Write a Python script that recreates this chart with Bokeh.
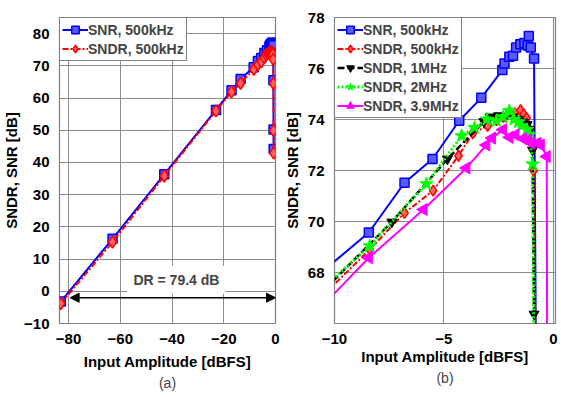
import numpy as np
from bokeh.plotting import figure
from bokeh.layouts import row
from bokeh.models import Range1d, FixedTicker, Label, Arrow, NormalHead, Title
from bokeh.embed import file_html
from bokeh.resources import INLINE

FONT = "Liberation Sans"

# ---- data ----
snr500_x = [-83, -63, -43, -23, -17, -13.5, -8.43, -6.8, -5.52, -4.3, -3.29, -2.33, -2.23,
            -2.01, -1.84, -1.7, -1.51, -1.32, -1.17, -1.12, -1.03, -0.88, -0.8, -0.75, -0.7]
snr500_y = [-3.2, 16.3, 36.3, 56.3, 62.4, 65.9, 69.57, 71.52, 72.45, 73.95, 74.85, 75.94, 76.2,
            76.46, 76.5, 76.82, 76.95, 77.0, 76.9, 77.27, 76.82, 76.39, 65.5, 50.2, 44.2]

sndr500_x = [-83, -63, -43, -23, -17, -13.5, -8.39, -6.8, -5.49, -4.33, -3.68, -3.0, -2.6,
             -2.3, -2.0, -1.75, -1.5, -1.35, -1.22, -1.07, -0.9, -0.8, -0.75, -0.7]
sndr500_y = [-3.8, 15.3, 35.8, 56.0, 61.9, 64.6, 68.9, 70.34, 71.21, 72.58, 73.46, 73.75, 73.98,
             74.1, 74.3, 74.25, 74.37, 74.2, 74.05, 73.6, 72.0, 64.5, 49.9, 42.9]

sndr1m_x = [-12, -7.38, -4.84, -3.17, -2.89, -2.5, -2.2, -1.85, -1.6, -1.37, -1.2, -1.07, -0.95, -0.88]
sndr1m_y = [66.0, 69.98, 72.45, 73.92, 74.1, 74.15, 74.12, 74.1, 74.0, 73.9, 73.8, 73.6, 72.8, 66.37]

sndr2m_x = [-12, -8.39, -5.8, -4.19, -3.6, -3.03, -2.6, -2.3, -2.01, -1.8, -1.6, -1.45, -1.2,
            -1.09, -0.95, -0.85]
sndr2m_y = [66.26, 69.04, 71.47, 73.36, 73.68, 74.01, 73.95, 74.1, 74.34, 74.0, 73.9, 73.75, 73.6,
            73.4, 72.25, 60.0]

sndr39m_x = [-12, -8.43, -5.93, -3.97, -3.06, -2.8, -2.3, -2.0, -1.73, -1.38, -1.14, -1.0, -0.72,
             -0.57, -0.3, -0.27]
sndr39m_y = [65.4, 68.58, 70.47, 72.1, 73.0, 73.27, 73.6, 73.3, 73.4, 73.25, 73.2, 73.07, 73.07,
             73.0, 72.55, 60.0]

left_xticks = [-80, -60, -40, -20, 0]
left_yticks = [-10, 0, 10, 20, 30, 40, 50, 60, 70, 80]
right_xticks = [-10, -5, 0]
right_yticks = [68, 70, 72, 74, 76, 78]


def style(p, xticks, yticks):
    p.xaxis.ticker = FixedTicker(ticks=xticks)
    p.yaxis.ticker = FixedTicker(ticks=yticks)
    for ax in (p.xaxis, p.yaxis):
        ax.axis_line_color = None
        ax.major_tick_line_color = None
        ax.minor_tick_line_color = None
        ax.major_label_text_font = FONT
        ax.major_label_text_font_style = "bold"
        ax.major_label_text_font_size = "15px"
        ax.major_label_text_color = "black"
        ax.axis_label_text_font = FONT
        ax.axis_label_text_font_style = "bold"
        ax.axis_label_text_font_size = "15px"
        ax.axis_label_text_color = "black"
        ax.major_label_standoff = 4
        ax.axis_label_standoff = 4
    p.grid.grid_line_color = "#8c8c8c"
    p.grid.grid_line_width = 1
    p.outline_line_color = "#7f7f7f"
    p.outline_line_width = 1.2


def style_legend(p):
    lg = p.legend[0]
    lg.location = "top_left"
    lg.margin = 0
    lg.padding = 2
    lg.spacing = 0
    lg.border_line_color = "black"
    lg.border_line_width = 1.5
    lg.background_fill_alpha = 1
    lg.label_text_font = FONT
    lg.label_text_font_style = "bold"
    lg.label_text_font_size = "14px"
    lg.glyph_width = 26
    lg.glyph_height = 19
    lg.label_height = 19
    lg.label_standoff = 0


# ---- left plot ----
p1 = figure(width=280, height=397, output_backend="svg", toolbar_location=None,
            x_range=Range1d(-83.5, 0), y_range=Range1d(-10, 85),
            min_border_left=58, min_border_right=5, min_border_top=5, min_border_bottom=68)
style(p1, left_xticks, left_yticks)
p1.xaxis.axis_label = "Input Amplitude [dBFS]"
p1.yaxis.axis_label = "SNDR, SNR [dB]"
p1.xaxis.axis_label_standoff = 6
p1.yaxis.axis_label_standoff = 1

p1.line(snr500_x, snr500_y, color="#0000ff", line_width=2, legend_label="SNR, 500kHz")
p1.scatter(snr500_x, snr500_y, marker="square", size=9, line_color="#0000ff",
           fill_color="#5a5aff", line_width=1.5, legend_label="SNR, 500kHz")
p1.line(sndr500_x, sndr500_y, color="#ff0000", line_width=2, line_dash="6 2 2 2",
        legend_label="SNDR, 500kHz")
p1.scatter(sndr500_x, sndr500_y, marker="diamond", size=12, line_color="#ff0000",
           fill_color="#ff6060", line_width=1.5, legend_label="SNDR, 500kHz")

p1.add_layout(Arrow(x_start=-79.4, y_start=-2, x_end=0, y_end=-2, line_width=1.5,
                    start=NormalHead(size=9, fill_color="black", line_color="black"),
                    end=NormalHead(size=9, fill_color="black", line_color="black")))
p1.add_layout(Label(x=-38.3, y=3.6, text="DR = 79.4 dB", text_align="center",
                    text_baseline="middle", text_font=FONT, text_font_style="bold",
                    text_font_size="14px", background_fill_color="white", padding=6))
p1.add_layout(Title(text="(a)", align="center", text_font=FONT, text_font_style="normal",
                    text_font_size="14px", standoff=0), "below")
style_legend(p1)

# ---- right plot ----
p2 = figure(width=281, height=397, output_backend="svg", toolbar_location=None,
            x_range=Range1d(-10, 0.1), y_range=Range1d(66, 78),
            min_border_left=43, min_border_right=6, min_border_top=17, min_border_bottom=74)
style(p2, right_xticks, right_yticks)
p2.xaxis.axis_label = "Input Amplitude [dBFS]"
p2.yaxis.axis_label = "SNDR, SNR [dB]"
p2.xaxis.axis_label_standoff = 1

p2.line(snr500_x, snr500_y, color="#0000ff", line_width=2, legend_label="SNR, 500kHz")
p2.scatter(snr500_x, snr500_y, marker="square", size=9, line_color="#0000ff",
           fill_color="#5a5aff", line_width=1.5, legend_label="SNR, 500kHz")
p2.line(sndr500_x, sndr500_y, color="#ff0000", line_width=2, line_dash="6 2 2 2",
        legend_label="SNDR, 500kHz")
p2.scatter(sndr500_x, sndr500_y, marker="diamond", size=11, line_color="#ff0000",
           fill_color="#ff6060", line_width=1.5, legend_label="SNDR, 500kHz")
p2.line(sndr1m_x, sndr1m_y, color="black", line_width=2.5, line_dash="7 3",
        legend_label="SNDR, 1MHz")
p2.scatter(sndr1m_x, sndr1m_y, marker="inverted_triangle", size=10, color="black",
           legend_label="SNDR, 1MHz")
p2.line(sndr2m_x, sndr2m_y, color="#00ff00", line_width=3, line_dash="2 2",
        legend_label="SNDR, 2MHz")
p2.scatter(sndr2m_x, sndr2m_y, marker="star", size=14, color="#00ff00",
           legend_label="SNDR, 2MHz")
p2.line(sndr39m_x, sndr39m_y, color="#ff00ff", line_width=2, legend_label="SNDR, 3.9MHz")
p2.scatter(sndr39m_x, sndr39m_y, marker="triangle", size=12, color="#ff00ff",
           angle=np.pi / 2, legend_label="SNDR, 3.9MHz")
p2.add_layout(Title(text="(b)", align="center", text_font=FONT, text_font_style="normal",
                    text_font_size="14px", standoff=0), "below")
style_legend(p2)

layout = row(p1, p2, spacing=0)
open("out.html", "w").write(file_html(layout, INLINE))
